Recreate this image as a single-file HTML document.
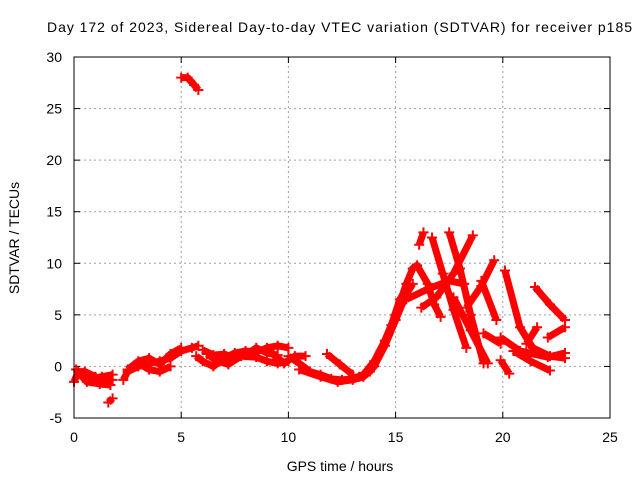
<!DOCTYPE html>
<html><head><meta charset="utf-8"><style>
body{margin:0;background:#fff;}
svg{display:block;font-family:"Liberation Sans",sans-serif;}
</style></head><body>
<svg id="chart" width="640" height="480" viewBox="0 0 640 480">
<text x="47" y="32" font-size="14" textLength="585" lengthAdjust="spacing">Day 172 of 2023, Sidereal Day-to-day VTEC variation (SDTVAR) for receiver p185</text>
<g id="grid"></g>
<g id="ticks"></g>
<g id="marks"></g>
<rect x="74" y="57" width="536" height="361" fill="none" stroke="#000" stroke-width="1"/>
<text x="340" y="471" font-size="14" text-anchor="middle">GPS time / hours</text>
<text x="19" y="238" font-size="14" text-anchor="middle" transform="rotate(-90 19 238)">SDTVAR / TECUs</text>
</svg>
<script>
const xTicks=[0,5,10,15,20,25];
const yTicks=[-5,0,5,10,15,20,25,30];
const tracks=[
[[0,-1.5],[0.2,-0.5],[0.5,-0.5],[1,-1],[1.5,-1.5],[1.8,-1.3]],
[[0.3,-0.8],[0.8,-1.2],[1.3,-1.0],[1.8,-0.8]],
[[0.1,-0.3],[0.6,-1.5],[1.2,-1.7],[1.7,-1.8]],
[[1.6,-3.5],[1.8,-3.1]],
[[2.3,-1.3],[2.5,-0.5],[3,0],[3.5,0.3],[4,0.5],[4.5,0.8],[5,1.5],[5.5,1.8],[5.8,2]],
[[2.5,-0.3],[3,0.5],[3.5,0.8],[4,0.2],[4.5,1.2],[5,1.8]],
[[3,0.3],[3.5,-0.3],[4,-0.5],[4.5,0]],
[[5,28],[5.3,28],[5.6,27.3],[5.8,26.8]],
[[5.7,1.0],[6,0.5],[6.5,0],[7,0.8],[7.5,1.3],[8,1.5],[8.5,1.4],[9,1.8],[9.5,2],[10,1.8]],
[[6.2,1.2],[6.7,0.5],[7.2,0.2],[7.8,1],[8.5,0.9],[9,0.5],[9.5,0.3],[10,0.5]],
[[6,1.6],[6.5,1.1],[7,1.2],[7.5,0.8],[8,1.1],[8.5,1.8],[9,1.3],[9.5,1.1]],
[[9.3,1.2],[9.8,0.3],[10.3,1],[10.8,1]],
[[10,1],[10.5,0.3],[11,-0.5],[11.5,-0.8],[12,-1.2],[12.5,-1.3],[13,-1.2],[13.5,-0.8],[14,0.5],[14.5,2.5],[15,5],[15.3,6.2]],
[[10.5,-0.3],[11.5,-1],[12.3,-1.5],[13,-1.3],[13.5,-1],[14,0],[14.5,2],[15,4.5],[15.5,7],[15.8,8]],
[[11.8,1.2],[12.4,0.2],[13,-0.8]],
[[13.3,-1],[13.8,-0.5],[14.3,1.5],[14.8,4],[15.2,6.5],[15.5,7.5]],
[[15,5],[15.5,8],[15.8,9.5],[16,9.8],[16.5,8],[16.8,6],[17.1,4.8]],
[[16.1,11.8],[16.3,13]],
[[16.7,12.5],[17.2,9],[17.7,5.5],[18.3,1.8]],
[[17.5,13],[18,9.5],[18.5,5],[19.1,0.3]],
[[18.6,12.7],[17.7,9],[16.9,6.7],[16.2,5.7]],
[[19.6,10.3],[19,7.8],[18.3,5.7]],
[[19,8.3],[19.7,4.5]],
[[15.5,6.5],[16.5,7.5],[17.5,8.3],[18.2,8]],
[[17.7,6.7],[18.5,3.5],[19.3,0.3]],
[[19.1,3.2],[19.9,2.2]],
[[20.1,9.3],[20.8,3.8],[21.4,1.8],[22.2,1],[22.9,0.8]],
[[21.5,7.7],[22.2,6],[22.9,4.5]],
[[22.1,2.8],[22.9,3.8]],
[[19.9,2.8],[20.8,1.5],[22.1,0.9],[22.9,1.3]],
[[19.9,0.6],[20.3,-0.7]],
[[20.5,1.5],[21.3,0.5],[22.2,-0.4]],
[[21.1,2.2],[21.6,3.8]]
];
const NS="http://www.w3.org/2000/svg";
const X0=74,X1=610,Y0=418,Y1=57;
const xs=t=>X0+(t-0)/(25-0)*(X1-X0);
const ys=v=>Y0-(v+5)/(35)*(Y0-Y1);
const grid=document.getElementById('grid'),ticks=document.getElementById('ticks'),marks=document.getElementById('marks');
function mk(tag,attrs,parent){const e=document.createElementNS(NS,tag);for(const k in attrs)e.setAttribute(k,attrs[k]);parent.appendChild(e);return e;}
xTicks.forEach(t=>{const x=xs(t);
 if(t>0&&t<25){const g=mk('line',{x1:x,x2:x,y1:Y0,y2:Y1,stroke:'#a0a0a0','stroke-dasharray':'2,3'},grid);
 
 }
 mk('line',{x1:x,x2:x,y1:Y0,y2:Y0-6,stroke:'#000'},ticks);
 mk('line',{x1:x,x2:x,y1:Y1,y2:Y1+6,stroke:'#000'},ticks);
 const l=mk('text',{x:x,y:442,'font-size':14,'text-anchor':'middle'},ticks);l.textContent=t;
 
 
});
yTicks.forEach(v=>{const y=ys(v);
 if(v>-5&&v<30){const g=mk('line',{x1:X0,x2:X1,y1:y,y2:y,stroke:'#a0a0a0','stroke-dasharray':'2,3'},grid);
 
 }
 mk('line',{x1:X0,x2:X0+6,y1:y,y2:y,stroke:'#000'},ticks);
 mk('line',{x1:X1,x2:X1-6,y1:y,y2:y,stroke:'#000'},ticks);
 const l=mk('text',{x:62,y:y+5,'font-size':14,'text-anchor':'end'},ticks);l.textContent=v;
 
 
});
tracks.forEach(tr=>{
 const p=mk('polyline',{points:tr.map(d=>xs(d[0])+','+ys(d[1])).join(' '),fill:'none',stroke:'#ff0000','stroke-width':7,'stroke-linejoin':'round'},marks);
 
 
 tr.forEach(d=>{const x=xs(d[0]),y=ys(d[1]);
  const m=mk('path',{d:`M${x-5},${y}H${x+5}M${x},${y-5}V${y+5}`,stroke:'#ff0000','stroke-width':2},marks);
  
  
 });
});
</script>
</body></html>
